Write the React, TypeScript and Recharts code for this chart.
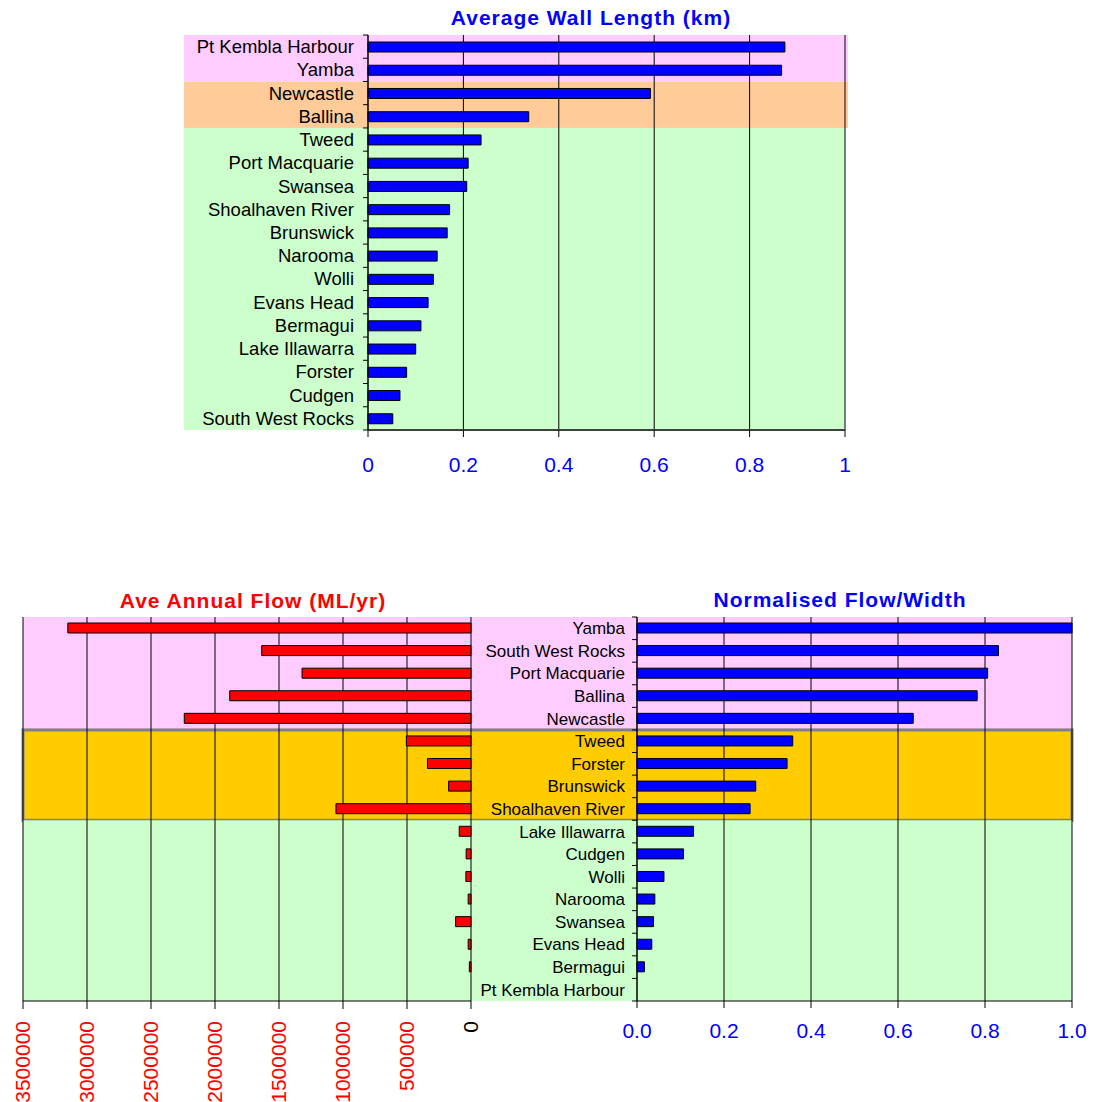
import React from 'react';
import { BarChart, Bar, XAxis, YAxis, CartesianGrid, ReferenceArea } from 'recharts';

const FONT = '"Liberation Sans", Arial, sans-serif';
const BLUE = '#0000FF';
const RED = '#FF0000';
const PINK = '#FFCCFF';
const PEACH = '#FFCC99';
const GOLD = '#FFCC00';
const MINT = '#CCFFCC';

// Average wall length (km), longest first
const wallSites = [
  'Pt Kembla Harbour', 'Yamba', 'Newcastle', 'Ballina', 'Tweed', 'Port Macquarie', 'Swansea',
  'Shoalhaven River', 'Brunswick', 'Narooma', 'Wolli', 'Evans Head', 'Bermagui', 'Lake Illawarra',
  'Forster', 'Cudgen', 'South West Rocks',
];
const wallLength = [
  0.874, 0.867, 0.592, 0.337, 0.237, 0.21, 0.207, 0.171, 0.166, 0.145, 0.137, 0.126, 0.111, 0.1,
  0.081, 0.067, 0.052,
];
const wallTicks = [0, 0.2, 0.4, 0.6, 0.8, 1];

// Flow per entrance, same order for both lower panels
const flowSites = [
  'Yamba', 'South West Rocks', 'Port Macquarie', 'Ballina', 'Newcastle', 'Tweed', 'Forster',
  'Brunswick', 'Shoalhaven River', 'Lake Illawarra', 'Cudgen', 'Wolli', 'Narooma', 'Swansea',
  'Evans Head', 'Bermagui', 'Pt Kembla Harbour',
];
const annualFlow = [
  3150000, 1635000, 1320000, 1885000, 2240000, 505000, 340000, 175000, 1055000, 92000, 38000,
  40000, 22000, 120000, 22000, 13000, 0,
];
const normFlow = [
  1.0, 0.831, 0.806, 0.782, 0.635, 0.358, 0.345, 0.273, 0.26, 0.13, 0.107, 0.062, 0.041, 0.038,
  0.034, 0.017, 0,
];
const flowTicks = [0, 500000, 1000000, 1500000, 2000000, 2500000, 3000000, 3500000];
const normTicks = [0, 0.2, 0.4, 0.6, 0.8, 1];

const wallBands = [
  { from: 'Pt Kembla Harbour', to: 'Yamba', fill: PINK },
  { from: 'Newcastle', to: 'Ballina', fill: PEACH },
  { from: 'Tweed', to: 'South West Rocks', fill: MINT },
];
const flowBands = [
  { from: 'Yamba', to: 'Newcastle', fill: PINK, edge: 'none' },
  { from: 'Tweed', to: 'Shoalhaven River', fill: GOLD, edge: '#808080' },
  { from: 'Lake Illawarra', to: 'Pt Kembla Harbour', fill: MINT, edge: 'none' },
];

const wallData = wallSites.map((name, i) => ({ name, km: wallLength[i] }));
const flowData = flowSites.map((name, i) => ({ name, flow: annualFlow[i], norm: normFlow[i] }));

// band rectangle that also runs under the category labels
const bandShape = (left: number, right: number, edge = 'none') => (props: any) => {
  const { x, y, width, height, fill } = props;
  return (
    <rect
      x={x - left}
      y={y}
      width={width + left + right}
      height={height}
      fill={fill}
      stroke={edge}
      strokeWidth={3}
    />
  );
};

// category label with small boundary ticks between rows; `gap` = distance from text to axis
const siteTick = (fontSize: number, gap: number) => (props: any) => {
  const { x, y, payload, index, visibleTicksCount } = props;
  const half = payload?.offset ?? 11;
  const ax = x + gap;
  return (
    <g>
      <line x1={ax - 5} x2={ax} y1={y - half} y2={y - half} stroke="#000" />
      {index === visibleTicksCount - 1 && (
        <line x1={ax - 5} x2={ax} y1={y + half} y2={y + half} stroke="#000" />
      )}
      <text x={x} y={y} dy="0.35em" textAnchor="end" fontSize={fontSize} fontFamily={FONT} fill="#000">
        {payload.value}
      </text>
    </g>
  );
};

// rotated flow labels, zero in black
const flowTick = (props: any) => {
  const { x, y, payload } = props;
  return (
    <text
      x={x}
      y={y}
      dy="0.35em"
      transform={`rotate(-90 ${x} ${y})`}
      textAnchor="end"
      fontSize={21}
      fontFamily={FONT}
      fill={payload.value === 0 ? '#000' : RED}
    >
      {payload.value}
    </text>
  );
};

const titleStyle = (color: string, cx: number, top: number): React.CSSProperties => ({
  position: 'absolute',
  left: cx - 250,
  top,
  width: 500,
  textAlign: 'center',
  fontFamily: FONT,
  fontWeight: 'bold',
  fontSize: 21,
  letterSpacing: 1,
  lineHeight: '24px',
  color,
});

export default function App() {
  return (
    <div style={{ position: 'absolute', left: 0, top: 0, width: 1104, height: 1102, background: '#fff' }}>
      <div style={titleStyle(BLUE, 591, 6)}>Average Wall Length (km)</div>
      <div style={titleStyle(RED, 253, 589)}>Ave Annual Flow (ML/yr)</div>
      <div style={titleStyle(BLUE, 840, 588)}>Normalised Flow/Width</div>

      {/* Wall length */}
      <div style={{ position: 'absolute', left: 0, top: 0 }}>
        <BarChart
          width={1104}
          height={480}
          data={wallData}
          layout="vertical"
          margin={{ top: 35, right: 259, left: 0, bottom: 0 }}
        >
          {wallBands.map((b) => (
            <ReferenceArea
              key={b.from}
              y1={b.from}
              y2={b.to}
              fill={b.fill}
              ifOverflow="visible"
              zIndex={-200}
              shape={bandShape(184, b.fill === MINT ? 0 : 3)}
            />
          ))}
          <CartesianGrid horizontal={false} stroke="#000" />
          <XAxis
            type="number"
            domain={[0, 1]}
            ticks={wallTicks}
            interval={0}
            height={50}
            tickSize={7}
            tickMargin={20}
            axisLine={{ stroke: '#404040', strokeWidth: 2 }}
            tickLine={{ stroke: '#000' }}
            tick={{ fill: BLUE, fontSize: 21, fontFamily: FONT }}
          />
          <YAxis
            type="category"
            dataKey="name"
            width={368}
            tickSize={5}
            tickMargin={9}
            tickLine={false}
            axisLine={{ stroke: '#000' }}
            interval={0}
            tick={siteTick(18.5, 14)}
          />
          <Bar dataKey="km" fill={BLUE} stroke="#000" strokeWidth={1} barSize={10} isAnimationActive={false} />
          <ReferenceArea fill="none" stroke="#808080" strokeWidth={2} ifOverflow="visible" zIndex={600} />
        </BarChart>
      </div>

      {/* Normalised flow/width (also holds the shared row bands) */}
      <div style={{ position: 'absolute', left: 0, top: 560 }}>
        <BarChart
          width={1104}
          height={542}
          data={flowData}
          layout="vertical"
          margin={{ top: 57, right: 32, left: 471, bottom: 0 }}
        >
          {flowBands.map((b) => (
            <ReferenceArea
              key={b.from}
              y1={b.from}
              y2={b.to}
              fill={b.fill}
              ifOverflow="visible"
              zIndex={-200}
              shape={bandShape(614, 0, b.edge)}
            />
          ))}
          <CartesianGrid horizontal={false} stroke="#000" />
          <XAxis
            type="number"
            domain={[0, 1]}
            ticks={normTicks}
            interval={0}
            height={101}
            tickSize={7}
            tickMargin={15}
            tickFormatter={(v: number) => v.toFixed(1)}
            axisLine={{ stroke: '#000' }}
            tickLine={{ stroke: '#000' }}
            tick={{ fill: BLUE, fontSize: 21, fontFamily: FONT }}
          />
          <YAxis
            type="category"
            dataKey="name"
            width={166}
            tickSize={5}
            tickMargin={7}
            tickLine={false}
            axisLine={{ stroke: '#000' }}
            interval={0}
            tick={siteTick(17, 12)}
          />
          <Bar dataKey="norm" fill={BLUE} stroke="#000" strokeWidth={1} barSize={10} isAnimationActive={false} />
          <ReferenceArea fill="none" stroke="#606060" strokeWidth={2} ifOverflow="visible" zIndex={600} />
        </BarChart>
      </div>

      {/* Annual flow, axis running right to left */}
      <div style={{ position: 'absolute', left: 0, top: 560 }}>
        <BarChart
          width={1104}
          height={542}
          data={flowData}
          layout="vertical"
          margin={{ top: 57, right: 633, left: 23, bottom: 0 }}
        >
          <CartesianGrid horizontal={false} stroke="#000" />
          <XAxis
            type="number"
            domain={[0, 3500000]}
            ticks={flowTicks}
            interval={0}
            reversed
            height={101}
            tickSize={8}
            tickMargin={12}
            axisLine={{ stroke: '#000' }}
            tickLine={{ stroke: '#000' }}
            tick={flowTick}
          />
          <YAxis type="category" dataKey="name" hide />
          <Bar dataKey="flow" fill={RED} stroke="#000" strokeWidth={1} barSize={10} isAnimationActive={false} />
          <ReferenceArea fill="none" stroke="#808080" strokeWidth={2} ifOverflow="visible" zIndex={600} />
        </BarChart>
      </div>
    </div>
  );
}
